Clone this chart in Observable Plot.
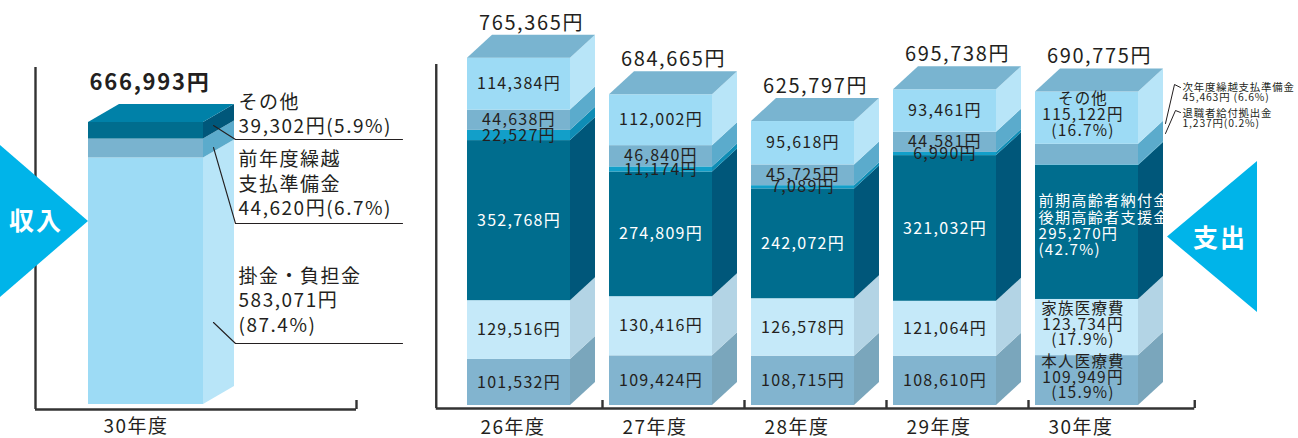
<!DOCTYPE html>
<html lang="ja"><head><meta charset="utf-8">
<script src="https://cdn.jsdelivr.net/npm/d3@7"></script>
<script src="https://cdn.jsdelivr.net/npm/@observablehq/plot@0.6"></script>
<style>
html,body{margin:0;padding:0;background:#fff;}
#wrap{position:relative;width:1298px;height:438px;overflow:hidden;font-family:"Noto Sans CJK JP",sans-serif;}
#inc,#exp{position:absolute;top:0;}
#inc{left:0;width:430px}
#exp{left:430px;width:868px}
#wrap svg text{letter-spacing:0.08em}
.arrow{position:absolute;background:#00b4e9;}
.atext{position:absolute;color:#fff;font-weight:700;font-size:25px;line-height:1;letter-spacing:2px;font-family:"Noto Sans CJK JP",sans-serif;}
</style></head><body>
<div id="wrap">
 <div id="inc"></div><div id="exp"></div>
 <div class="arrow" style="left:0;top:145px;width:88px;height:152px;clip-path:polygon(0 0,100% 50%,0 100%)"></div>
 <div class="arrow" style="left:1167px;top:161px;width:90px;height:151px;clip-path:polygon(0 50%,100% 0,100% 100%)"></div>
 <div class="atext" style="left:9px;top:207px">収入</div>
 <div class="atext" style="left:1193px;top:224px">支出</div>
</div>
<script>
// ---------------- data ----------------
const incomeYear = "30年度";
const incomeCategories = ["掛金・負担金", "前年度繰越支払準備金", "その他"];
const incomeLabels = ["掛金・負担金", "前年度繰越\n支払準備金", "その他"];
const incomeValues = [583071, 44620, 39302];
const incomePercents = ["87.4%", "6.7%", "5.9%"];
const incomeTotal = 666993;

const years = ["26年度", "27年度", "28年度", "29年度", "30年度"];
const expenseCategories = ["本人医療費", "家族医療費", "前期高齢者納付金・後期高齢者支援金", "退職者給付拠出金", "次年度繰越支払準備金", "その他"];
const expenseLabels = ["本人医療費", "家族医療費", "前期高齢者納付金\n後期高齢者支援金", "退職者給付拠出金", "次年度繰越支払準備金", "その他"];
const honninIryohi = [101532, 109424, 108715, 108610, 109949];
const kazokuIryohi = [129516, 130416, 126578, 121064, 123734];
const koreishaNofukin = [352768, 274809, 242072, 321032, 295270];
const taishokushaKyoshutsukin = [22527, 11174, 7089, 6990, 1237];
const jinendoKurikoshi = [44638, 46840, 45725, 44581, 45463];
const sonota = [114384, 112002, 95618, 93461, 115122];
const expenseTotals = [765365, 684665, 625797, 695738, 690775];
const expensePercents30 = ["15.9%", "17.9%", "42.7%", "0.2%", "6.6%", "16.7%"];

// ---------------- styles ----------------
const H = 438;
const FONT = '"Noto Sans CJK JP", sans-serif';
const INK = "#231f20";
const expFront = ["#82b4cf", "#c5e9f9", "#006d8e", "#129fc9", "#79b3cf", "#9ddbf5"];
const expSide  = ["#7aa6bc", "#b3d4e5", "#00577a", "#0f8db5", "#5babcc", "#b8e5f8"];
const expCap = "#79b4d0";
const incFront = ["#9ddbf5", "#79b3cf", "#006d8e"];
const incSide  = ["#b8e5f8", "#5babcc", "#00577a"];
const incCap = "#0081a8";
const fmt = d3.format(",");

// ---------------- geometry ----------------
function geom(c) {
  c.kx = (c.width - c.ml - c.mr) / (c.x1 - c.x0);
  c.ky = (H - c.mt - c.mb) / c.yMax;
  c.dX = c.depthPx[0] / c.kx;
  c.dY = c.depthPx[1] / c.ky;
  c.hw = c.facePx / 2 / c.kx;
  c.ux = gx => c.x0 + (gx - c.left - c.ml) / c.kx;   // page px -> x units (annotations only)
  c.uy = gy => (H - c.mb - gy) / c.ky;               // page px -> y units (annotations only)
  return c;
}
const E = geom({left: 430, width: 868, ml: 17.5, mr: 140.5, mt: 42, mb: 33, x0: -0.5, x1: 4.5, yMax: 800000, depthPx: [25, 23], facePx: 103, cap: expCap});
const I = geom({left: 0, width: 430, ml: 88, mr: 227, mt: 108, mb: 34, x0: -0.5, x1: 0.5, yMax: 700000, depthPx: [31, 18], facePx: 115, cap: incCap});

function boxes(c, stacks, tops) {
  const sidePts = stacks.flatMap(d => [
    {key: d.i + "-" + d.k, x: d.i + c.hw, y1: d.y0, y2: d.y1, fill: d.side},
    {key: d.i + "-" + d.k, x: d.i + c.hw + c.dX, y1: d.y0 + c.dY, y2: d.y1 + c.dY, fill: d.side}
  ]);
  const capPts = tops.flatMap(d => [
    {key: d.i, x: d.i - c.hw, y1: d.top, y2: d.top},
    {key: d.i, x: d.i - c.hw + c.dX, y1: d.top, y2: d.top + c.dY},
    {key: d.i, x: d.i + c.hw, y1: d.top, y2: d.top + c.dY},
    {key: d.i, x: d.i + c.hw + c.dX, y1: d.top + c.dY, y2: d.top + c.dY}
  ]);
  return [
    Plot.rect(stacks, {x1: d => d.i - c.hw, x2: d => d.i + c.hw, y1: "y0", y2: "y1", fill: "front"}),
    Plot.areaY(sidePts, {x: "x", y1: "y1", y2: "y2", z: "key", fill: "fill"}),
    Plot.areaY(capPts, {x: "x", y1: "y1", y2: "y2", z: "key", fill: c.cap})
  ];
}
function leader(c, pts, key) { return pts.map(([gx, gy]) => ({key, x: c.ux(gx), y: c.uy(gy)})); }

// ---------------- expenditure panel ----------------
const expSeries = [honninIryohi, kazokuIryohi, koreishaNofukin, taishokushaKyoshutsukin, jinendoKurikoshi, sonota];
const expStack = [];
years.forEach((yr, i) => {
  let acc = 0;
  expSeries.forEach((arr, k) => {
    expStack.push({i, k, v: arr[i], y0: acc, y1: acc + arr[i], front: expFront[k], side: expSide[k]});
    acc += arr[i];
  });
});
const expTops = expenseTotals.map((v, i) => ({i, top: v}));
const mid = d => (d.y0 + d.y1) / 2;
const last = years.length - 1;
const s30 = expStack.filter(d => d.i === last);
const padE = 0.22;

const expLeaders = [
  ...leader(E, [[1165, 123], [1174, 84], [1180, 87]], "a"),
  ...leader(E, [[1165, 133], [1175, 110], [1180, 112]], "b")
];

const expPlot = Plot.plot({
  width: E.width, height: H,
  marginLeft: E.ml, marginRight: E.mr, marginTop: E.mt, marginBottom: E.mb,
  style: {fontFamily: FONT, fontSize: "19px", color: INK, background: "transparent", overflow: "visible"},
  x: {domain: [E.x0, E.x1], axis: null},
  y: {domain: [0, E.yMax], axis: null},
  marks: [
    ...boxes(E, expStack, expTops),
    // frame
    Plot.ruleY([0], {x1: -E.hw - padE, x2: last + E.hw + E.dX + padE, dy: 3, stroke: "#333", strokeWidth: 2.4}),
    Plot.ruleX([-E.hw - padE], {y1: 0, y2: E.uy(61), dy: 3, stroke: "#333", strokeWidth: 2.4}),
    Plot.ruleX([...d3.range(0.5, last + 0.5, 1).map(v => v + E.dX / 2), last + E.hw + E.dX + padE],
      {y1: 0, y2: 8 / E.ky, dy: 3, stroke: "#333", strokeWidth: 2.4}),
    Plot.axisX({ticks: d3.range(years.length), tickFormat: i => years[i], tickSize: 0, tickPadding: 15, fontSize: 19, dx: -6, label: null}),
    // values, years 26-29
    Plot.text(expStack.filter(d => d.i < last), {x: "i", y: mid, text: d => fmt(d.v) + "円", fill: d => d.k === 2 ? "#ffffff" : INK, fontSize: 16}),
    // year 30 labels
    Plot.text(s30.filter(d => [0, 1, 5].includes(d.k)), {x: "i", y: mid, dx: -4, dy: -3, lineHeight: 1.02, fontSize: 15.5, fill: INK,
      text: d => `${expenseLabels[d.k]}\n${fmt(d.v)}円\n(${expensePercents30[d.k]})`}),
    Plot.text(s30.filter(d => d.k === 2), {x: d => d.i - E.hw, y: mid, dx: 3, dy: -7, textAnchor: "start", lineHeight: 1.08, fontSize: 15.2, fill: "#ffffff",
      text: d => `${expenseLabels[d.k]}\n${fmt(d.v)}円\n(${expensePercents30[d.k]})`}),
    Plot.line(expLeaders, {x: "x", y: "y", z: "key", stroke: INK, strokeWidth: 1}),
    Plot.text(s30.filter(d => d.k === 4 || d.k === 3), {x: E.ux(1182), y: d => d.k === 4 ? E.uy(92) : E.uy(118), textAnchor: "start", lineHeight: 0.98, fontSize: 10.4, fill: INK,
      text: d => `${expenseLabels[d.k]}\n${fmt(d.v)}円${d.k === 4 ? " " : ""}(${expensePercents30[d.k]})`}),
    // totals
    Plot.text(expTops, {x: d => d.i + E.dX / 2, y: d => d.top + E.dY, dy: -12, text: d => fmt(d.top) + "円", fontSize: 20, fill: INK})
  ]
});
document.getElementById("exp").append(expPlot);

// ---------------- income panel ----------------
const incStack = [];
{ let acc = 0;
  incomeValues.forEach((v, k) => { incStack.push({i: 0, k, v, y0: acc, y1: acc + v, front: incFront[k], side: incSide[k]}); acc += v; });
}
const incLabelY = [299, 182.5, 112.5];   // page px block centres of the callouts
const incLineY = [343, 223, 139];
const incStartY = [322, 147, 125];
const incLeaders = incStack.flatMap(d => leader(I, [[213, incStartY[d.k]], [235, incLineY[d.k]], [402, incLineY[d.k]]], "L" + d.k));

const incPlot = Plot.plot({
  width: I.width, height: H,
  marginLeft: I.ml, marginRight: I.mr, marginTop: I.mt, marginBottom: I.mb,
  style: {fontFamily: FONT, fontSize: "19px", color: INK, background: "transparent", overflow: "visible"},
  x: {domain: [I.x0, I.x1], axis: null},
  y: {domain: [0, I.yMax], axis: null},
  marks: [
    ...boxes(I, incStack, [{i: 0, top: incomeTotal}]),
    Plot.ruleY([0], {x1: I.ux(35), x2: I.ux(356), dy: 5, stroke: "#333", strokeWidth: 2.4}),
    Plot.ruleX([I.ux(35)], {y1: 0, y2: I.uy(62), dy: 5, stroke: "#333", strokeWidth: 2.4}),
    Plot.ruleX([I.ux(356)], {y1: 0, y2: 9 / I.ky, dy: 5, stroke: "#333", strokeWidth: 2.4}),
    Plot.axisX({ticks: [0], tickFormat: () => incomeYear, tickSize: 0, tickPadding: 15, fontSize: 19, dx: -10, label: null}),
    Plot.line(incLeaders, {x: "x", y: "y", z: "key", stroke: INK, strokeWidth: 1.1}),
    Plot.text(incStack, {x: I.ux(238), y: d => I.uy(incLabelY[d.k]), textAnchor: "start", lineHeight: 1.29, fontSize: 19, fill: INK,
      text: d => d.k === 0 ? `${incomeLabels[d.k]}\n${fmt(d.v)}円\n(${incomePercents[d.k]})` : `${incomeLabels[d.k]}\n${fmt(d.v)}円(${incomePercents[d.k]})`}),
    Plot.text([incomeTotal], {x: 0, y: d => d + I.dY, dy: -22, dx: 4, text: d => fmt(d) + "円", fontSize: 22, fontWeight: "bold", fill: INK})
  ]
});
document.getElementById("inc").append(incPlot);
</script>
</body></html>
